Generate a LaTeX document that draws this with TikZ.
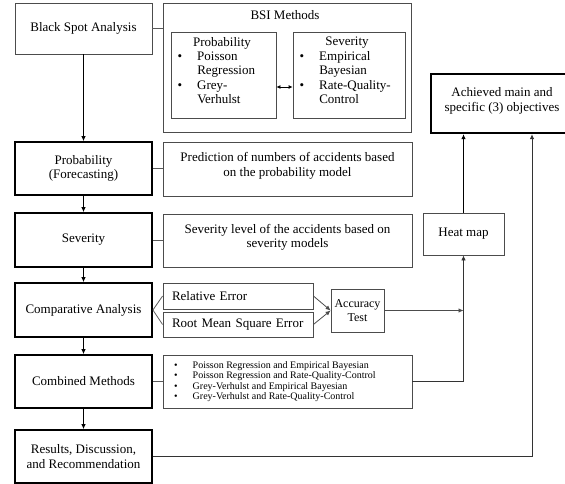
\documentclass[tikz,border=0pt]{standalone}
\usepackage{fontspec}
\setmainfont{Liberation Serif}
\usetikzlibrary{arrows.meta}
\newcommand{\mfs}{\fontsize{13}{14.2}\selectfont}
\newcommand{\sfsz}{\fontsize{10}{10.4}\selectfont}
\begin{document}
\begin{tikzpicture}[x=1pt,y=-1pt,
  thinbox/.style={draw=black!70, line width=0.8pt, inner sep=0pt, align=center, font=\mfs},
  thickbox/.style={draw=black, line width=1.8pt, inner sep=0pt, align=center, font=\mfs},
  txt/.style={inner sep=0pt, font=\mfs},
  link/.style={draw=black!65, line width=0.8pt},
  arr/.style={draw=black, line width=0.8pt, -{Latex[length=5pt,width=4.5pt]}},
  dbl/.style={draw=black, line width=0.8pt, {Latex[length=4pt,width=4pt]}-{Latex[length=4pt,width=4pt]}}]
\useasboundingbox (0,0) rectangle (565,484);
% top row
\node[thinbox, minimum width=137pt, minimum height=51pt] (bsa) at (83.5,28.5) {Black Spot Analysis};
\node[thinbox, minimum width=248pt, minimum height=129pt] (bsi) at (287,67.5) {};
\node[txt] (bsititle) at (285,15) {BSI Methods};
\node[thinbox, minimum width=105pt, minimum height=86pt] (pin) at (223.5,75) {};
\node[thinbox, minimum width=112pt, minimum height=86pt] (sin) at (349,75) {};
\node[txt] (pinhead) at (222,43) {Probability};
\node[txt] (sinhead) at (347,43) {Severity};
\node[txt, anchor=north west] (pinlist) at (177.5,50.5)
  {\begin{tabular}{@{}l@{\hspace{15pt}}l@{}}\textbullet & Poisson\\ & Regression\\ \textbullet & Grey-\\ & Verhulst\end{tabular}};
\node[txt, anchor=north west] (sinlist) at (299.5,50.5)
  {\begin{tabular}{@{}l@{\hspace{15pt}}l@{}}\textbullet & Empirical\\ & Bayesian\\ \textbullet & Rate-Quality-\\ & Control\end{tabular}};
\node[thickbox, minimum width=142pt, minimum height=59pt, line width=2.4pt] (ach) at (502,103.5) {Achieved main and\\specific (3) objectives\\[-6pt]};
% left column
\node[thickbox, minimum width=137pt, minimum height=53pt] (prob) at (83.5,168.5) {Probability\\(Forecasting)};
\node[thickbox, minimum width=137pt, minimum height=54pt] (sev) at (83.5,240) {Severity};
\node[thickbox, minimum width=137pt, minimum height=54pt] (comp) at (83.5,310) {Comparative Analysis};
\node[thickbox, minimum width=137pt, minimum height=53pt] (comb) at (83.5,381.5) {Combined Methods};
\node[thickbox, minimum width=137pt, minimum height=53pt] (res) at (83.5,456.5) {Results, Discussion,\\and Recommendation};
% description column
\node[thinbox, minimum width=249pt, minimum height=54pt] (d1) at (287.5,169) {Prediction of numbers of accidents based\\on the probability model\\[-5pt]};
\node[thinbox, minimum width=249pt, minimum height=53pt] (d2) at (287.5,240.5) {Severity level of the accidents based on\\severity models\\[-5pt]};
\node[thinbox, text width=132pt, inner xsep=9pt, minimum height=26pt, align=left] (re) at (238,296) {Relative Error};
\node[thinbox, text width=132pt, inner xsep=9pt, minimum height=25pt, align=left] (rmse) at (238,324.5) {Root Mean Square Error};
\node[thinbox, minimum width=53pt, minimum height=43pt, font=\fontsize{12}{14}\selectfont] (acc) at (357.5,310.5) {Accuracy\\Test};
\node[thinbox, minimum width=249pt, minimum height=53pt] (d3) at (287.5,381.5) {};
\node[inner sep=0pt, font=\sfsz, anchor=west] (d3list) at (174,382)
  {\begin{tabular}{@{}l@{\hspace{15pt}}l@{}}\textbullet & Poisson Regression and Empirical Bayesian\\ \textbullet & Poisson Regression and Rate-Quality-Control\\ \textbullet & Grey-Verhulst and Empirical Bayesian\\ \textbullet & Grey-Verhulst and Rate-Quality-Control\end{tabular}};
\node[thinbox, minimum width=81pt, minimum height=42pt] (heat) at (463.5,234) {Heat map};
% connectors
\draw[link] (bsa.east) -- (bsa.east -| bsi.west);
\draw[dbl] ([yshift=-12pt]pin.east) -- ([yshift=-12pt]sin.west);
\draw[arr] (bsa) -- (prob);
\draw[arr] (prob) -- (sev);
\draw[arr] (sev) -- (comp);
\draw[arr] (comp) -- (comb);
\draw[arr] (comb) -- (res);
\draw[link] (prob.east) -- (prob.east -| d1.west);
\draw[link] (sev.east) -- (sev.east -| d2.west);
\draw[link] (comp.east) -- (re.west);
\draw[link] (comp.east) -- (rmse.west);
\draw[link] (comb.east) -- (comb.east -| d3.west);
\draw[arr, draw=black!70] (re.east) -- (acc.west);
\draw[arr, draw=black!70] (rmse.east) -- (acc.west);
\draw[arr, draw=black!70] (acc.east) -- (acc.east -| heat.south);
\draw[arr, draw=black!80] (d3.east) -| (heat.south);
\draw[arr] (heat.north) -- (heat.north |- ach.south);
\draw[arr, draw=black!80] (res.east) -| ([xshift=30pt]ach.south);
\end{tikzpicture}
\end{document}
